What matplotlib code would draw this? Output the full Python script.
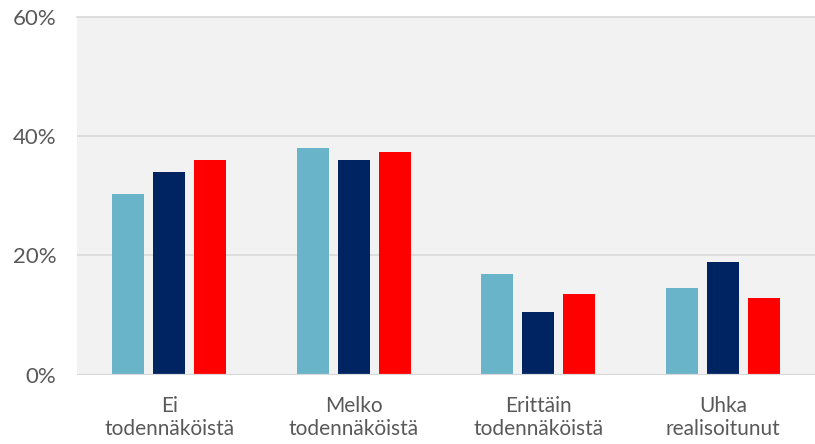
import numpy as np
from matplotlib import pyplot as plt
from matplotlib.ticker import PercentFormatter

CATEGORIES = ["Ei\ntodennäköistä", "Melko\ntodennäköistä", "Erittäin\ntodennäköistä", "Uhka\nrealisoitunut"]
SERIES_A = [30.3, 38.0, 16.9, 14.5]
SERIES_B = [34.0, 36.0, 10.5, 18.9]
SERIES_C = [36.0, 37.3, 13.5, 12.9]

COLORS = ["#69B4C9", "#002462", "#FF0000"]
GRID_COLOR = "#D9D9D9"
TEXT_COLOR = "#595959"

plt.rcParams["font.family"] = ["Lato", "DejaVu Sans"]

fig = plt.figure(figsize=(8.15, 4.44), dpi=100)
ax = fig.add_axes([0.0945, 0.156, 0.9055, 0.806])
ax.set_facecolor("#F2F2F2")

x = np.arange(len(CATEGORIES))
width = 0.173
offset = 0.222
for i, (values, color) in enumerate(zip([SERIES_A, SERIES_B, SERIES_C], COLORS)):
    ax.bar(x + (i - 1) * offset, values, width=width, color=color, zorder=3)

ax.set_xlim(-0.5, len(CATEGORIES) - 0.5)
ax.set_ylim(0, 60)
ax.set_yticks([0, 20, 40, 60])
ax.yaxis.set_major_formatter(PercentFormatter(decimals=0))
ax.grid(axis="y", color=GRID_COLOR, linewidth=1.2, zorder=1)
ax.set_axisbelow(True)
ax.axhline(0, color=GRID_COLOR, linewidth=1.6, zorder=4)

for spine in ax.spines.values():
    spine.set_visible(False)

ax.set_xticks(x)
ax.set_xticklabels(CATEGORIES, linespacing=1.2)
ax.tick_params(axis="x", length=0, pad=15, labelsize=15, labelcolor=TEXT_COLOR)
ax.tick_params(axis="y", length=0, pad=15, labelsize=16, labelcolor=TEXT_COLOR)
ax.yaxis.get_major_ticks()[-1].gridline.set_clip_on(False)

fig.savefig("out.png", dpi=100)
